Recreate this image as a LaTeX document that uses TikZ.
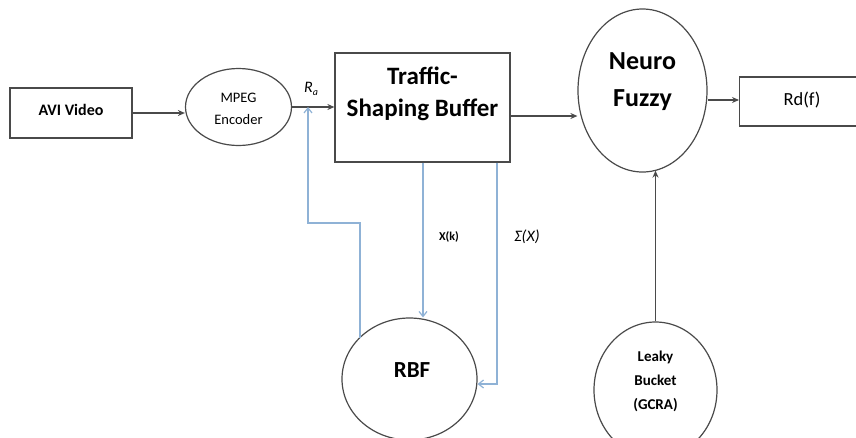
\documentclass[tikz,border=0pt]{standalone}
\usepackage{fontspec}
\setmainfont{Carlito}
\usetikzlibrary{shapes.geometric,arrows.meta}
\definecolor{lineg}{HTML}{4A4A4A}
\definecolor{fb}{HTML}{8FB2D6}
\tikzset{
  blk/.style={draw=lineg, line width=1.2pt, fill=white, inner sep=0pt},
  ell/.style={ellipse, draw=lineg, line width=1.2pt, fill=white, inner sep=0pt},
  txt/.style={inner sep=0pt, align=center},
  garrow/.style={draw=lineg, line width=1.2pt, -{Stealth[length=7pt,width=6pt]}},
  barrow/.style={draw=fb, line width=1.2pt, -{Straight Barb[length=5pt,width=8pt]}},
}
\begin{document}
\begin{tikzpicture}[x=1pt,y=-1pt]
\useasboundingbox (0,0) rectangle (856,437);
\fill[white] (0,0) rectangle (856,437);
\clip (0,0) rectangle (856,437);

% shapes
\node[blk, minimum width=122pt, minimum height=50pt] (avi) at (71,113) {};
\node[ell, minimum width=106pt, minimum height=77pt] (mpeg) at (238.5,107) {};
\node[blk, minimum width=175pt, minimum height=109pt] (tsb) at (422.5,107.5) {};
\node[ell, minimum width=129pt, minimum height=163pt] (nf) at (642.5,90.5) {};
\node[blk, minimum width=140pt, minimum height=49pt, anchor=west] (rd) at (739,101.5) {};
\node[ell, minimum width=135pt, minimum height=122pt] (rbf) at (409.5,379) {};
\node[ell, minimum width=123pt, minimum height=136pt] (lb) at (655.5,390) {};

% texts
\node[txt, font=\fontsize{16}{18}\selectfont\bfseries] (avit) at (71,110) {AVI Video};
\node[txt, font=\fontsize{14.5}{22}\selectfont] (mpegt) at (238.5,109) {MPEG\\Encoder};
\node[txt, font=\fontsize{25}{32}\selectfont\bfseries] (tsbt) at (422.5,94) {Traffic-\\Shaping Buffer};
\node[txt, font=\fontsize{26}{37}\selectfont\bfseries] (nft) at (642.5,81.5) {Neuro\\Fuzzy};
\node[txt, font=\fontsize{18.5}{20}\selectfont] (rdt) at (802,100) {Rd(f)};
\node[txt, font=\fontsize{23}{26}\selectfont\bfseries] (rbft) at (412,370) {RBF};
\node[txt, font=\fontsize{15}{24}\selectfont\bfseries] (lbt) at (655.5,381) {Leaky\\Bucket\\(GCRA)};

% main arrows
\draw[garrow] (avi.east) -- (mpeg.west |- avi.east);
\coordinate (ra) at (308,107);
\draw[garrow] (mpeg.east) -- (tsb.west |- mpeg.east);
\node[txt, font=\fontsize{16}{18}\selectfont\itshape] (ralab) at (311,89) {R\raisebox{-3pt}{\fontsize{10}{12}\selectfont a}};
\draw[garrow] (tsb.east |- 0,116) -- (nf.west |- 0,116);
\draw[garrow] (nf.east |- 0,100) -- (rd.west |- 0,100);
\draw[garrow] (lb.north) -- (lb.north |- nf.-80);

% blue feedback paths
\coordinate (fbs) at (360,337.5);
\draw[barrow] (fbs) -- (360,223) -- (308,223) -- (ra);
\draw[barrow] (tsb.south -| 423,0) -- (rbf.north -| 423,0);
\draw[barrow] (tsb.south -| 497,0) -- (497,384) -- (rbf.east |- 0,384);
\node[txt, font=\fontsize{12}{13}\selectfont\bfseries] (xk) at (449,237) {X(k)};
\node[txt, font=\fontsize{16}{16}\selectfont\itshape] (sx) at (527,237) {Σ(X)};
\end{tikzpicture}
\end{document}
